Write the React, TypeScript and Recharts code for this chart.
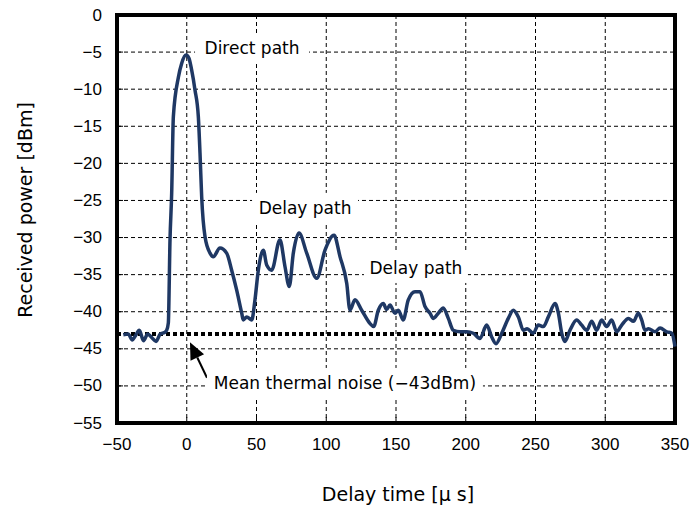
import React from 'react';
import {
  LineChart,
  Line,
  XAxis,
  YAxis,
  CartesianGrid,
  ReferenceLine,
  ReferenceArea,
  ReferenceDot,
  Label,
} from 'recharts';

// delay time [us] and received power [dBm]
const delayUs = [
  -45.5, -42, -39, -37, -34, -31, -28, -25, -22, -19, -16, -14.4, -13.2, -12, -10.8, -9.6,
  -6, -3.6, -0.5, 1.5, 3.5, 5.9, 8.3, 9.5, 10.7, 13.1, 16.7, 19, 23.8, 28.6, 32.2, 35.8,
  39.4, 40.5, 43, 46.6, 48.9, 51.3, 54.9, 57.3, 60.9, 66.8, 70.4, 73.5, 76.4, 80.5, 86,
  93.2, 99.1, 105.6, 109.9, 114.7, 117, 120.6, 125.4, 131.4, 134, 137.3, 140.9, 143.3,
  145.7, 149.3, 151.7, 155.2, 158.8, 163.6, 167.2, 170.8, 174.4, 176.8, 180.3, 183.9,
  187.5, 191.1, 195.9, 200.7, 205.4, 210.2, 215, 218.6, 221.7, 225.8, 230.5, 234.1,
  237.7, 241.3, 244, 248.4, 252, 255.6, 259.2, 264, 266.4, 268.8, 271.1, 274.7, 279.5,
  283.1, 286.7, 290.3, 293.9, 297.4, 301, 304.6, 308.2, 311.8, 316.6, 320.2, 323.7,
  326.1, 328.5, 331, 335.7, 339.3, 344.1, 347.7, 350,
];
const powerDbm = [
  -43.1, -43.0, -43.8, -43.3, -42.5, -43.9, -43.0, -43.5, -44.0, -43.0, -42.8, -42.5, -41.5, -30.3, -24, -13.7,
  -8.4, -6.5, -5.4, -5.8, -7.4, -10.1, -13.7, -18.6, -24.5, -29.9, -32.1, -32.6, -31.4, -32.1, -34.4, -37.1,
  -40.2, -41.1, -40.7, -41.1, -38.4, -34.4, -31.7, -33.7, -34.4, -30.3, -33.9, -36.6, -32.1, -29.4, -32.1,
  -35.5, -31.7, -29.7, -32.6, -36.2, -39.8, -38.4, -39.8, -41.6, -42, -39.8, -38.9, -39.7,
  -39.1, -40.2, -39.8, -41.1, -38.4, -37.3, -37.3, -39.3, -40.2, -40.9, -40.2, -39.5,
  -40.9, -42.5, -42.7, -42.7, -42.9, -43.6, -41.8, -43.4, -44.3, -42.9, -40.9, -39.8,
  -40.7, -42.5, -42.3, -42.9, -41.8, -42.0, -40.7, -38.9, -40.2, -42.9, -44.0, -42.5, -41.1,
  -41.8, -42.5, -41.3, -42.5, -41.1, -42.0, -41.1, -42.7, -41.8, -40.9, -41.3, -40.2,
  -41.1, -42.5, -42.3, -42.7, -42.2, -42.7, -42.9, -44.7,
];

const xTicks = [-50, 0, 50, 100, 150, 200, 250, 300, 350];
const yTicks = [0, -5, -10, -15, -20, -25, -30, -35, -40, -45, -50, -55];
const meanNoise = -43;

const data = delayUs.map((x, i) => ({ x, p: powerDbm[i] }));

const TICK_FONT = '"Liberation Sans", Arial, sans-serif';
const TEXT_FONT = '"DejaVu Sans", sans-serif';
const minus = (v: number) => String(v).replace('-', '\u2212');

const YTick = (props: any) => {
  const { x, y, payload } = props;
  return (
    <g>
      <text x={x} y={y} textAnchor="end" dominantBaseline="central" fontSize={17} fill="#000" fontFamily={TICK_FONT}>
        {minus(payload.value)}
      </text>
      <line x1={x + 15} x2={x + 21} y1={y} y2={y} stroke="#000" strokeWidth={1} />
    </g>
  );
};

const XTick = (props: any) => {
  const { x, y, payload } = props;
  return (
    <g>
      <text x={x} y={y} dy="0.75em" textAnchor="middle" fontSize={17} fill="#000" fontFamily={TICK_FONT}>
        {minus(payload.value)}
      </text>
      <line x1={x} x2={x} y1={y - 14} y2={y - 20} stroke="#000" strokeWidth={1} />
    </g>
  );
};

// white boxed annotation text
const boxed = (text: string, w: number) => (props: any) => {
  const { cx, cy } = props;
  return (
    <g>
      <rect x={cx - w / 2} y={cy - 15} width={w} height={30} fill="#fff" />
      <text x={cx} y={cy} textAnchor="middle" dominantBaseline="central" fontSize={17} fill="#000" fontFamily={TEXT_FONT}>
        {text}
      </text>
    </g>
  );
};

const Arrow = (props: any) => {
  const { x1, y1, x2, y2 } = props;
  // tail (x1,y1) -> tip (x2,y2)
  const ang = Math.atan2(y2 - y1, x2 - x1);
  const len = 17;
  const half = 7.5;
  const bx = x2 - len * Math.cos(ang);
  const by = y2 - len * Math.sin(ang);
  const px = -Math.sin(ang) * half;
  const py = Math.cos(ang) * half;
  return (
    <g>
      <line x1={x1} y1={y1} x2={bx} y2={by} stroke="#000" strokeWidth={2} />
      <polygon points={`${x2},${y2} ${bx + px},${by + py} ${bx - px},${by - py}`} fill="#000" />
    </g>
  );
};

export default function App() {
  return (
    <div style={{ position: 'absolute', left: 0, top: 0, background: '#fff' }}>
      <LineChart width={690} height={507} data={data} margin={{ top: 15, right: 15, left: 0, bottom: 0 }}>
        <CartesianGrid stroke="#000" strokeDasharray="4 3" strokeWidth={1} />
        <XAxis
          dataKey="x"
          type="number"
          domain={[-50, 350]}
          ticks={xTicks}
          height={84}
          axisLine={false}
          tickLine={false}
          tickSize={0}
          tickMargin={14}
          tick={<XTick />}
          interval={0}
        >
          <Label
            content={() => (
              <text x={398} y={494} textAnchor="middle" dominantBaseline="central" fontSize={19} fill="#000" fontFamily={TEXT_FONT}>
                Delay time [μ s]
              </text>
            )}
          />
        </XAxis>
        <YAxis
          type="number"
          domain={[-55, 0]}
          ticks={yTicks}
          width={117}
          axisLine={false}
          tickLine={false}
          tickSize={0}
          tickMargin={15}
          tick={<YTick />}
          interval={0}
        >
          <Label
            content={() => (
              <text x={25} y={210} transform="rotate(-90 25 210)" textAnchor="middle" dominantBaseline="central" fontSize={19} fill="#000" fontFamily={TEXT_FONT}>
                Received power [dBm]
              </text>
            )}
          />
        </YAxis>
        <ReferenceLine y={meanNoise} stroke="#000" strokeWidth={4} strokeDasharray="4 3" />
        <Line
          type="monotone"
          dataKey="p"
          stroke="#1f3864"
          strokeWidth={3.5}
          dot={false}
          isAnimationActive={false}
        />
        <ReferenceDot x={46.8} y={-4.5} shape={boxed('Direct path', 114)} />
        <ReferenceDot x={84.8} y={-26.0} shape={boxed('Delay path', 106)} />
        <ReferenceDot x={164.3} y={-34.1} shape={boxed('Delay path', 104)} />
        <ReferenceDot x={113.4} y={-49.6} shape={boxed('Mean thermal noise (\u221243dBm)', 276)} />
        <ReferenceLine
          segment={[{ x: 14.5, y: -48.9 }, { x: 2.3, y: -44.1 }]}
          shape={<Arrow />}
        />
        <ReferenceArea x1={-50} x2={350} y1={-55} y2={0} fill="none" stroke="#000" strokeWidth={4} />
      </LineChart>
    </div>
  );
}
